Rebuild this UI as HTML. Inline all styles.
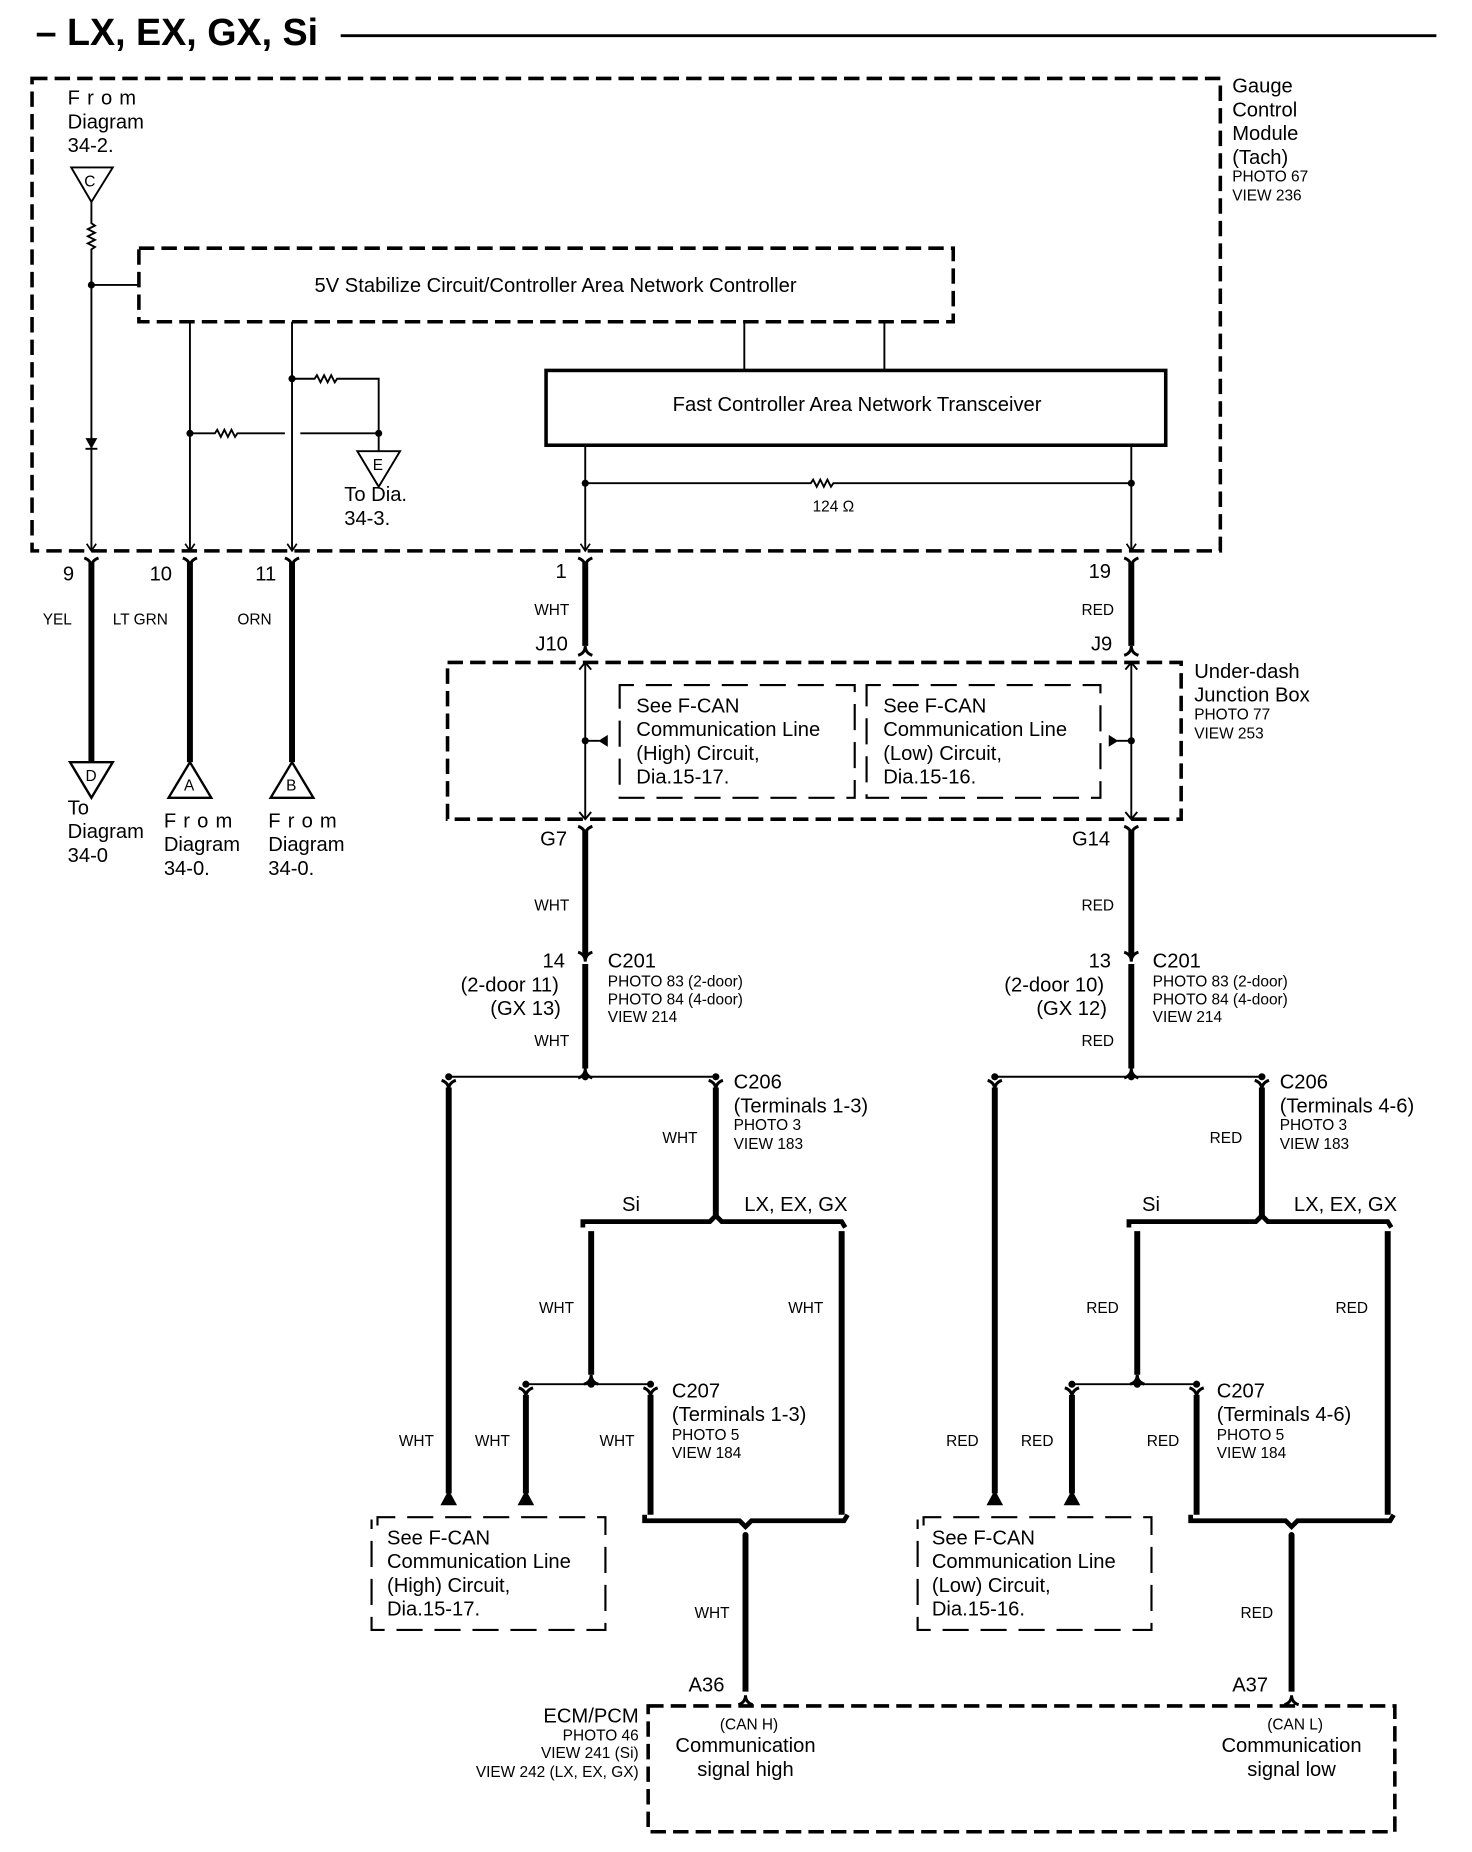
<!DOCTYPE html>
<html><head><meta charset="utf-8"><style>
html,body{margin:0;padding:0;background:#fff;}
svg{display:block;}
text{font-family:"Liberation Sans",sans-serif;fill:#000;}
.m{font-size:17px;}
.s{font-size:13px;}
.w{font-size:14px;}
.th{stroke:#000;stroke-width:5;fill:none;}
.tn{stroke:#000;stroke-width:1.6;fill:none;}
.d{stroke:#000;stroke-width:3;fill:none;stroke-dasharray:13 6;}
.dl{stroke:#000;stroke-width:1.8;fill:none;stroke-dasharray:22 10;}
</style></head><body>
<svg width="1472" height="1852" viewBox="0 0 1240 1560" xmlns="http://www.w3.org/2000/svg">
<defs>
<g id="yd"><path d="M-6,-6 Q0,-4 0,2 Q0,-4 6,-6" stroke="#000" stroke-width="2.5" fill="none"/></g>
<g id="yu"><path d="M-6,6 Q0,4 0,-2 Q0,4 6,6" stroke="#000" stroke-width="2.5" fill="none"/></g>
<g id="ah"><path d="M-4,-6 L0,0 L4,-6" stroke="#000" stroke-width="1.4" fill="none"/></g>
</defs>
<!-- title -->
<text x="30" y="38" style="font-size:32px;font-weight:bold" textLength="238" lengthAdjust="spacingAndGlyphs">– LX, EX, GX, Si</text>
<line x1="287" y1="30" x2="1210" y2="30" stroke="#000" stroke-width="2.5"/>

<!-- gauge box -->
<rect x="27" y="66" width="1001" height="398" class="d"/>
<text class="m" x="1038" y="78">Gauge</text>
<text class="m" x="1038" y="98">Control</text>
<text class="m" x="1038" y="118">Module</text>
<text class="m" x="1038" y="138">(Tach)</text>
<text class="s" x="1038" y="153">PHOTO 67</text>
<text class="s" x="1038" y="169">VIEW 236</text>
<text class="m" x="57" y="88" letter-spacing="6">From</text>
<text class="m" x="57" y="108">Diagram</text>
<text class="m" x="57" y="128">34-2.</text>
<polygon points="60,141 95,141 77,170" class="tn"/>
<text class="s" x="71" y="157">C</text>
<path d="M77,170 V188 l3,2 -6,3 6,3 -6,3 6,3 -6,3 6,3 -3,2 V464" class="tn"/>
<circle cx="77" cy="240" r="3"/>
<line x1="77" y1="240" x2="117" y2="240" class="tn"/>
<polygon points="72,369 82,369 77,378"/><line x1="72" y1="378" x2="82" y2="378" class="tn"/>
<rect x="117" y="209" width="686" height="62" class="d"/>
<text class="m" x="468" y="246" text-anchor="middle">5V Stabilize Circuit/Controller Area Network Controller</text>
<line x1="160" y1="271" x2="160" y2="464" class="tn"/>
<line x1="246" y1="271" x2="246" y2="464" class="tn"/>
<circle cx="160" cy="365" r="3"/><circle cx="319" cy="365" r="3"/><circle cx="246" cy="319" r="3"/>
<path d="M160,365 H181 l2,-3 3,6 3,-6 3,6 3,-6 3,6 2,-3 H240 M253,365 H319" class="tn"/>
<path d="M246,319 H265 l2,-3 3,6 3,-6 3,6 3,-6 3,6 2,-3 H319 V380" class="tn"/>
<polygon points="301,380 337,380 319,410" class="tn"/>
<text class="s" x="314" y="396">E</text>
<text class="m" x="290" y="422">To Dia.</text>
<text class="m" x="290" y="442">34-3.</text>
<line x1="627" y1="271" x2="627" y2="312" class="tn"/>
<line x1="745" y1="271" x2="745" y2="312" class="tn"/>
<rect x="460" y="312" width="522" height="63" stroke="#000" stroke-width="3" fill="none"/>
<text class="m" x="722" y="346" text-anchor="middle">Fast Controller Area Network Transceiver</text>
<line x1="493" y1="375" x2="493" y2="464" class="tn"/>
<line x1="953" y1="375" x2="953" y2="464" class="tn"/>
<path d="M493,407 H683 l2,-3 3,6 3,-6 3,6 3,-6 3,6 2,-3 H953" class="tn"/>
<circle cx="493" cy="407" r="3"/><circle cx="953" cy="407" r="3"/>
<text class="s" x="702" y="431" text-anchor="middle">124 Ω</text>
<use href="#ah" x="77" y="464"/><use href="#ah" x="160" y="464"/><use href="#ah" x="246" y="464"/><use href="#ah" x="493" y="464"/><use href="#ah" x="953" y="464"/>

<!-- top wires -->
<g class="th">
<line x1="77" y1="474" x2="77" y2="642"/>
<line x1="160" y1="474" x2="160" y2="642"/>
<line x1="246" y1="474" x2="246" y2="642"/>
<line x1="493" y1="474" x2="493" y2="544"/>
<line x1="953" y1="474" x2="953" y2="544"/>
</g>
<use href="#yd" x="77" y="476"/><use href="#yd" x="160" y="476"/><use href="#yd" x="246" y="476"/><use href="#yd" x="493" y="476"/><use href="#yd" x="953" y="476"/>
<use href="#yu" x="493" y="546"/><use href="#yu" x="953" y="546"/>
<text class="m" x="53" y="489">9</text><text class="m" x="126" y="489">10</text><text class="m" x="215" y="489">11</text>
<text class="m" x="468" y="487">1</text><text class="m" x="917" y="487">19</text>
<text class="s" x="36" y="526">YEL</text><text class="s" x="95" y="526">LT GRN</text><text class="s" x="200" y="526">ORN</text>
<text class="s" x="450" y="518">WHT</text><text class="s" x="911" y="518">RED</text>
<text class="m" x="451" y="548">J10</text><text class="m" x="919" y="548">J9</text>
<polygon points="59,642 95,642 77,672" stroke="#000" stroke-width="2" fill="#fff"/>
<text class="s" x="72" y="658">D</text>
<polygon points="142,672 178,672 160,642" stroke="#000" stroke-width="2" fill="#fff"/>
<text class="s" x="155" y="666">A</text>
<polygon points="228,672 264,672 246,642" stroke="#000" stroke-width="2" fill="#fff"/>
<text class="s" x="241" y="666">B</text>
<text class="m" x="57" y="686">To</text><text class="m" x="57" y="706">Diagram</text><text class="m" x="57" y="726">34-0</text>
<text class="m" x="138" y="697" letter-spacing="6">From</text><text class="m" x="138" y="717">Diagram</text><text class="m" x="138" y="737">34-0.</text>
<text class="m" x="226" y="697" letter-spacing="6">From</text><text class="m" x="226" y="717">Diagram</text><text class="m" x="226" y="737">34-0.</text>

<!-- junction box -->
<rect x="377" y="558" width="618" height="132" class="d"/>
<path d="M522,587 V577 H720 V672 H522 Z" class="dl"/>
<path d="M730,587 V577 H927 V672 H730 Z" class="dl"/>
<line x1="493" y1="558" x2="493" y2="690" class="tn"/>
<line x1="953" y1="558" x2="953" y2="690" class="tn"/>
<path d="M488,564 L493,558 L498,564 M488,684 L493,690 L498,684 M948,564 L953,558 L958,564 M948,684 L953,690 L958,684" class="tn"/>
<circle cx="493" cy="624" r="3"/><circle cx="953" cy="624" r="3"/>
<line x1="493" y1="624" x2="505" y2="624" class="tn"/><polygon points="504,624 512,619 512,629"/>
<line x1="953" y1="624" x2="941" y2="624" class="tn"/><polygon points="942,624 934,619 934,629"/>
<text class="m"><tspan x="536" y="600">See F-CAN</tspan><tspan x="536" y="620">Communication Line</tspan><tspan x="536" y="640">(High) Circuit,</tspan><tspan x="536" y="660">Dia.15-17.</tspan></text>
<text class="m"><tspan x="744" y="600">See F-CAN</tspan><tspan x="744" y="620">Communication Line</tspan><tspan x="744" y="640">(Low) Circuit,</tspan><tspan x="744" y="660">Dia.15-16.</tspan></text>
<text class="m" x="1006" y="571">Under-dash</text><text class="m" x="1006" y="591">Junction Box</text>
<text class="s" x="1006" y="606">PHOTO 77</text><text class="s" x="1006" y="622">VIEW 253</text>
<text class="m" x="455" y="712">G7</text><text class="m" x="903" y="712">G14</text>

<!-- left half lower -->
<g id="half">
<line class="th" x1="493" y1="700" x2="493" y2="805"/>
<use href="#yd" x="493" y="702"/>
<use href="#yd" x="493" y="808"/>
<line class="th" x1="493" y1="812" x2="493" y2="900"/>
<use href="#yu" x="493" y="902"/>
<line class="tn" x1="378" y1="907" x2="603" y2="907"/>
<circle cx="378" cy="907" r="3"/><circle cx="493" cy="907" r="3"/><circle cx="603" cy="907" r="3"/>
<use href="#yd" x="378" y="916"/><use href="#yd" x="603" y="916"/>
<line class="th" x1="378" y1="916" x2="378" y2="1258"/>
<polygon points="371,1268 385,1268 378,1255"/>
<line class="th" x1="603" y1="916" x2="603" y2="1024"/>
<path class="th" d="M491,1034 V1029 H598 L603,1024 L608,1029 H709 L712,1034" style="stroke-width:4"/>
<line class="th" x1="498" y1="1037" x2="498" y2="1158"/>
<use href="#yu" x="498" y="1160"/>
<line class="th" x1="709" y1="1037" x2="709" y2="1276"/>
<line class="tn" x1="443" y1="1166" x2="548" y2="1166"/>
<circle cx="443" cy="1166" r="3"/><circle cx="498" cy="1166" r="3"/><circle cx="548" cy="1166" r="3"/>
<use href="#yd" x="443" y="1175"/><use href="#yd" x="548" y="1175"/>
<line class="th" x1="443" y1="1175" x2="443" y2="1258"/>
<polygon points="436,1268 450,1268 443,1255"/>
<line class="th" x1="548" y1="1175" x2="548" y2="1276"/>
<path class="th" d="M543,1276 V1281 H623 L628,1286 L633,1281 H711 L714,1276" style="stroke-width:4"/>
<circle cx="628" cy="1293" r="2.5"/>
<line class="th" x1="628" y1="1293" x2="628" y2="1425"/>
<use href="#yu" x="628" y="1430"/>
<path d="M318,1285 V1278 H510 V1373 H313 V1280" class="dl"/>
</g>
<use href="#half" x="460" y="0"/>

<text class="s" x="450" y="767">WHT</text><text class="s" x="911" y="767">RED</text>
<text class="m" x="457" y="815">14</text><text class="m" x="388" y="835">(2-door 11)</text><text class="m" x="413" y="855">(GX 13)</text>
<text class="m" x="917" y="815">13</text><text class="m" x="846" y="835">(2-door 10)</text><text class="m" x="873" y="855">(GX 12)</text>
<text class="m" x="512" y="815">C201</text><text class="s" x="512" y="831">PHOTO 83 (2-door)</text><text class="s" x="512" y="846">PHOTO 84 (4-door)</text><text class="s" x="512" y="861">VIEW 214</text>
<text class="m" x="971" y="815">C201</text><text class="s" x="971" y="831">PHOTO 83 (2-door)</text><text class="s" x="971" y="846">PHOTO 84 (4-door)</text><text class="s" x="971" y="861">VIEW 214</text>
<text class="s" x="450" y="881">WHT</text><text class="s" x="911" y="881">RED</text>

<text class="m" x="618" y="917">C206</text><text class="m" x="618" y="937">(Terminals 1-3)</text><text class="s" x="618" y="952">PHOTO 3</text><text class="s" x="618" y="968">VIEW 183</text>
<text class="m" x="1078" y="917">C206</text><text class="m" x="1078" y="937">(Terminals 4-6)</text><text class="s" x="1078" y="952">PHOTO 3</text><text class="s" x="1078" y="968">VIEW 183</text>
<text class="s" x="558" y="963">WHT</text><text class="s" x="1019" y="963">RED</text>
<text class="m" x="524" y="1020">Si</text><text class="m" x="627" y="1020">LX, EX, GX</text>
<text class="m" x="962" y="1020">Si</text><text class="m" x="1090" y="1020">LX, EX, GX</text>
<text class="s" x="454" y="1106">WHT</text><text class="s" x="664" y="1106">WHT</text>
<text class="s" x="915" y="1106">RED</text><text class="s" x="1125" y="1106">RED</text>
<text class="m" x="566" y="1177">C207</text><text class="m" x="566" y="1197">(Terminals 1-3)</text><text class="s" x="566" y="1213">PHOTO 5</text><text class="s" x="566" y="1228">VIEW 184</text>
<text class="m" x="1025" y="1177">C207</text><text class="m" x="1025" y="1197">(Terminals 4-6)</text><text class="s" x="1025" y="1213">PHOTO 5</text><text class="s" x="1025" y="1228">VIEW 184</text>
<text class="s" x="336" y="1218">WHT</text><text class="s" x="400" y="1218">WHT</text><text class="s" x="505" y="1218">WHT</text>
<text class="s" x="797" y="1218">RED</text><text class="s" x="860" y="1218">RED</text><text class="s" x="966" y="1218">RED</text>
<text class="m"><tspan x="326" y="1301">See F-CAN</tspan><tspan x="326" y="1321">Communication Line</tspan><tspan x="326" y="1341">(High) Circuit,</tspan><tspan x="326" y="1361">Dia.15-17.</tspan></text>
<text class="m"><tspan x="785" y="1301">See F-CAN</tspan><tspan x="785" y="1321">Communication Line</tspan><tspan x="785" y="1341">(Low) Circuit,</tspan><tspan x="785" y="1361">Dia.15-16.</tspan></text>
<text class="s" x="585" y="1363">WHT</text><text class="s" x="1045" y="1363">RED</text>
<text class="m" x="580" y="1425">A36</text><text class="m" x="1038" y="1425">A37</text>

<!-- ECM -->
<rect x="546" y="1437" width="629" height="106" class="d"/>
<text class="m" x="538" y="1451" text-anchor="end">ECM/PCM</text>
<text class="s" x="538" y="1466" text-anchor="end">PHOTO 46</text>
<text class="s" x="538" y="1481" text-anchor="end">VIEW 241 (Si)</text>
<text class="s" x="538" y="1497" text-anchor="end">VIEW 242 (LX, EX, GX)</text>
<text class="s" x="631" y="1457" text-anchor="middle">(CAN H)</text>
<text class="m" x="628" y="1476" text-anchor="middle">Communication</text>
<text class="m" x="628" y="1496" text-anchor="middle">signal high</text>
<text class="s" x="1091" y="1457" text-anchor="middle">(CAN L)</text>
<text class="m" x="1088" y="1476" text-anchor="middle">Communication</text>
<text class="m" x="1088" y="1496" text-anchor="middle">signal low</text>
</svg>
</body></html>
